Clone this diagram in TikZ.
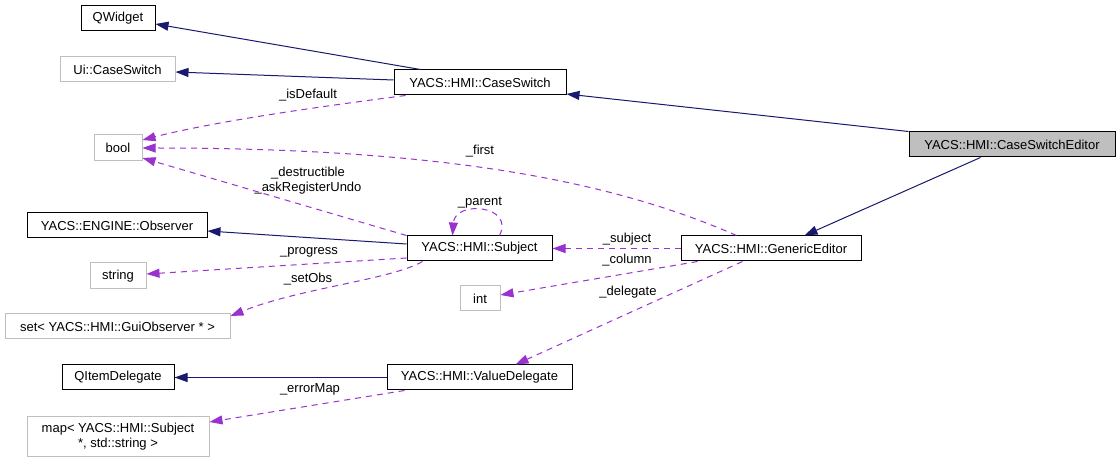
\documentclass[tikz,border=0pt]{standalone}
\usepackage{fontspec}
\setmainfont{Liberation Sans}
\usetikzlibrary{arrows.meta,calc}
\definecolor{inhcol}{HTML}{191970}
\definecolor{usecol}{HTML}{9A32CD}
\definecolor{gborder}{HTML}{BFBFBF}
\begin{document}
\begin{tikzpicture}[x=1pt,y=-1pt,
  box/.style={draw=black,line width=1pt,minimum height=25pt,inner sep=0pt,font=\fontsize{13}{15}\selectfont,fill=white},
  gbox/.style={box,draw=gborder},
  inhedge/.style={draw=inhcol,line width=1pt,-{Triangle[length=13pt,width=9pt]}},
  useedge/.style={draw=usecol,line width=1pt,dash pattern=on 6pt off 5pt,-{Triangle[length=13pt,width=9pt]}},
  lbl/.style={font=\fontsize{13}{15}\selectfont,inner sep=0pt,align=center}]
\useasboundingbox[fill=white] (0,0) rectangle (1120,462);

% nodes
\node[box,minimum width=74pt] (qw) at (118,18.5) {QWidget};
\node[gbox,minimum width=115pt] (ui) at (117.5,69.5) {Ui::CaseSwitch};
\node[box,minimum width=172pt] (cs) at (480,82.5) {YACS::HMI::CaseSwitch};
\node[gbox,minimum width=48pt,minimum height=26pt] (bool) at (118,148) {bool};
\node[box,minimum width=206pt,fill=gborder] (ed) at (1012,144.5) {YACS::HMI::CaseSwitchEditor};
\node[box,minimum width=180pt] (obs) at (117,225.5) {YACS::ENGINE::Observer};
\node[box,minimum width=145pt] (sub) at (479.5,248.5) {YACS::HMI::Subject};
\node[box,minimum width=180pt] (ge) at (771,248.5) {YACS::HMI::GenericEditor};
\node[gbox,minimum width=56pt,minimum height=26pt] (str) at (118,276) {string};
\node[gbox,minimum width=40pt] (int) at (480,298.5) {int};
\node[gbox,minimum width=225pt] (set) at (117.5,326.5) {set< YACS::HMI::GuiObserver * >};
\node[box,minimum width=112pt] (qi) at (118,377.5) {QItemDelegate};
\node[box,minimum width=185pt] (vd) at (479.5,377.5) {YACS::HMI::ValueDelegate};
\node[gbox,minimum width=182pt,minimum height=39pt,align=center] (map) at (118,436.5) {map< YACS::HMI::Subject\\*, std::string >};

% inheritance edges
\draw[inhedge] ($(cs.north west)+(27,0)$) -- ($(qw.east)+(0,5.5)$);
\draw[inhedge] ($(cs.west)+(0,-2.5)$) -- ($(ui.east)+(0,2.5)$);
\draw[inhedge] (ed.north west) -- ($(cs.east)+(0,11.5)$);
\draw[inhedge] ($(ed.south west)+(72,0)$) -- ($(ge.north west)+(124,0)$);
\draw[inhedge] ($(sub.west)+(0,-4.5)$) -- ($(obs.east)+(0,5.5)$);
\draw[inhedge] (vd.west) -- (qi.east);

% usage edges
\draw[useedge] ($(cs.south west)+(12,0)$) .. controls (340,104) and (220,120) .. ($(bool.east)+(0,-8)$)
  node[lbl] (lisdef) at (308,95) {\_isDefault};
\draw[useedge] ($(ge.north west)+(56,0)$) .. controls (610,180) and (440,148) .. (bool.east)
  node[lbl] (lfirst) at (480,151) {\_first};
\draw[useedge] (sub.north west) -- ($(bool.east)+(0,10)$)
  node[lbl] (ldes) at (308,180.5) {\_destructible\\\_askRegisterUndo};
\draw[useedge] ($(sub.north west)+(93,0)$) .. controls (515,205) and (455,200) .. ($(sub.north west)+(46,0)$)
  node[lbl] (lpar) at (480,203) {\_parent};
\draw[useedge] ($(sub.west)+(0,9.5)$) -- ($(str.east)+(0,-2)$)
  node[lbl] (lprog) at (309,252) {\_progress};
\draw[useedge] ($(sub.south west)+(16,0)$) .. controls (390,280) and (300,288) .. ($(set.east)+(0,-10.5)$)
  node[lbl] (lset) at (308,279) {\_setObs};
\draw[useedge] (ge.west) -- (sub.east)
  node[lbl] (lsub) at (627,239) {\_subject};
\draw[useedge] ($(ge.south west)+(17,0)$) -- ($(int.east)+(0,-3.5)$)
  node[lbl] (lcol) at (627,260) {\_column};
\draw[useedge] ($(ge.south west)+(62,0)$) -- ($(vd.north west)+(129,0)$)
  node[lbl] (ldel) at (628,292) {\_delegate};
\draw[useedge] ($(vd.south west)+(18,0)$) -- ($(map.east)+(0,-14.5)$)
  node[lbl] (lerr) at (310,389) {\_errorMap};
\end{tikzpicture}
\end{document}
